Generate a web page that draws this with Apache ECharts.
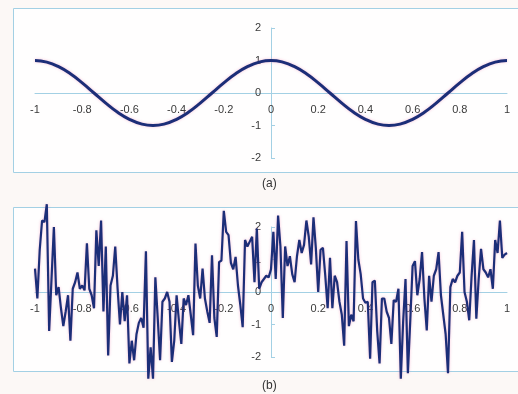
<!DOCTYPE html>
<html>
<head>
<meta charset="utf-8">
<script src="https://cdn.jsdelivr.net/npm/echarts@6/dist/echarts.min.js"></script>
<style>
  html, body { margin: 0; padding: 0; background: #fcf8f6; }
  #chart { width: 518px; height: 394px; }
</style>
</head>
<body>
<div id="chart"></div>
<script>
// (a) smooth curve, sampled every 0.05 from -1 to 1
const xStartA = -1, xStepA = 0.05;
const curveA = [
  1.00, 0.95, 0.81, 0.59, 0.31, 0.00, -0.31, -0.59, -0.81, -0.95,
  -1.00, -0.95, -0.81, -0.59, -0.31, 0.00, 0.31, 0.59, 0.81, 0.95,
  1.00, 0.95, 0.81, 0.59, 0.31, 0.00, -0.31, -0.59, -0.81, -0.95,
  -1.00, -0.95, -0.81, -0.59, -0.31, 0.00, 0.31, 0.59, 0.81, 0.95,
  1.00
];

// (b) noisy signal, sampled every 0.01 from -1 to 1
const xStartB = -1, xStepB = 0.01;
const noisyB = [
  0.72, -0.2, 1.3, 2.2, 2.15, 2.7, -1.2, 0.4, 2.0, -0.1,
  0.15, -0.5, -1.05, -0.6, -0.1, -1.5, 0.1, 0.3, 0.6, 0.1,
  0.2, 0.05, 1.5, 0.1, -0.1, -0.5, 1.9, 0.8, 2.2, -0.6,
  1.4, -1.95, 0.2, 0.5, 1.4, 0.1, -1.0, 0.0, -0.9, -0.1,
  -2.2, -1.5, -2.1, -1.3, -0.95, -0.8, -1.1, 1.25, -2.67, -1.7,
  -2.67, 0.45, -0.8, -2.1, -0.3, -0.2, 0.0, -0.3, -2.15, -1.5,
  -0.1, -0.9, -1.6, -0.2, -0.4, -0.1, -0.7, -1.33, 1.49, 0.2,
  -0.2, 0.72, -0.2, -0.6, -0.95, 1.13, -0.8, -1.38, 0.92, 0.97,
  2.5, 1.85, 1.75, 0.9, 0.7, 1.08, 0.2, -0.4, -1.08, 1.6,
  1.4, 1.55, 1.7, 0.3, 1.95, 0.1, 0.3, 0.4, 0.5, 0.45,
  0.7, 1.85, 0.4, 2.35, 1.4, -0.8, 1.4, 0.8, 1.1, 0.55,
  0.3, 1.1, 1.6, 1.2, 1.45, 2.2, 1.7, 0.85, 2.3, 1.35,
  0.0, 1.3, 1.36, 0.5, -0.5, 1.05, -0.5, 0.5, 0.3, -0.3,
  -0.7, -1.65, 1.57, -1.05, -0.7, -0.9, 2.18, 1.0, 0.55, -0.2,
  -0.33, -0.3, -2.05, 0.3, 0.35, -1.2, -2.2, -0.2, -0.2, -0.6,
  -0.8, -1.6, -0.25, -0.3, 0.1, -2.67, -0.9, 0.4, -2.5, -0.9,
  0.8, 0.95, -0.1, 0.4, 1.23, -0.2, -1.18, 0.5, -0.3, 0.5,
  0.7, 1.23, -0.1, -0.7, -1.3, -2.5, 0.15, 0.4, 0.3, 0.5,
  0.6, 1.85, 0.0, -0.3, -0.87, 0.5, 1.6, -0.82, 0.4, 1.33,
  0.7, 0.6, 0.45, 0.7, 0.1, 1.6, 1.2, 2.2, 1.05, 1.15,
  1.2
];

const xTicks = { min: -1, max: 1, interval: 0.2 };
const yTicks = { min: -2, max: 2, interval: 1 };
const captions = ['(a)', '(b)'];

const FONT = '"Liberation Sans", Arial, sans-serif';
const AXIS_COLOR = '#a3d0e4';
const LINE_COLOR = '#1c2e78';

// plot boxes (px)
const GRID_W = 472, GRID_H = 130;

function pairs(start, step, ys) {
  return ys.map((y, i) => [+(start + i * step).toFixed(4), y]);
}

// axes cross at the origin: shift each axis from its default edge into the middle
function xAxisFor(gridIndex) {
  return {
    gridIndex: gridIndex,
    type: 'value',
    position: 'bottom',
    offset: -GRID_H / 2,
    min: xTicks.min, max: xTicks.max, interval: xTicks.interval,
    axisLine: { onZero: false, lineStyle: { color: AXIS_COLOR, width: 1 } },
    axisTick: { show: false },
    splitLine: { show: false },
    axisLabel: {
      margin: 11, color: '#3a3a3a', fontSize: 11, fontFamily: FONT,
      formatter: v => String(+v.toFixed(1))
    }
  };
}

function yAxisFor(gridIndex) {
  return {
    gridIndex: gridIndex,
    type: 'value',
    position: 'left',
    offset: -GRID_W / 2,
    min: yTicks.min, max: yTicks.max, interval: yTicks.interval,
    axisLine: { onZero: false, lineStyle: { color: AXIS_COLOR, width: 1 } },
    axisTick: { show: true, inside: true, length: 4, lineStyle: { color: AXIS_COLOR } },
    splitLine: { show: false },
    axisLabel: { margin: 10, color: '#3a3a3a', fontSize: 11, fontFamily: FONT }
  };
}

const chart = echarts.init(document.getElementById('chart'), null, { renderer: 'canvas' });

const option = {
  backgroundColor: '#fcf8f6',
  animation: false,
  grid: [
    { left: 35, top: 28, width: GRID_W, height: GRID_H },
    { left: 35, top: 227, width: GRID_W, height: GRID_H }
  ],
  xAxis: [xAxisFor(0), xAxisFor(1)],
  yAxis: [yAxisFor(0), yAxisFor(1)],
  graphic: [
    { type: 'rect', z: -10, shape: { x: 13.5, y: 8.5, width: 520, height: 164 },
      style: { fill: '#fffefe', stroke: AXIS_COLOR, lineWidth: 1 } },
    { type: 'rect', z: -10, shape: { x: 13.5, y: 207.5, width: 520, height: 164 },
      style: { fill: '#fffefe', stroke: AXIS_COLOR, lineWidth: 1 } },
    { type: 'text', left: 262, top: 178,
      style: { text: captions[0], fill: '#333', font: '12px ' + FONT } },
    { type: 'text', left: 262, top: 380,
      style: { text: captions[1], fill: '#333', font: '12px ' + FONT } }
  ],
  series: [
    {
      type: 'line', xAxisIndex: 0, yAxisIndex: 0,
      data: pairs(xStartA, xStepA, curveA),
      smooth: true, showSymbol: false,
      lineStyle: { color: LINE_COLOR, width: 3,
        shadowColor: 'rgba(235,120,170,0.45)', shadowBlur: 3 }
    },
    {
      type: 'line', xAxisIndex: 1, yAxisIndex: 1,
      data: pairs(xStartB, xStepB, noisyB),
      showSymbol: false, clip: false,
      lineStyle: { color: LINE_COLOR, width: 2.2,
        shadowColor: 'rgba(235,120,170,0.45)', shadowBlur: 3 }
    }
  ]
};

chart.setOption(option);
</script>
</body>
</html>
